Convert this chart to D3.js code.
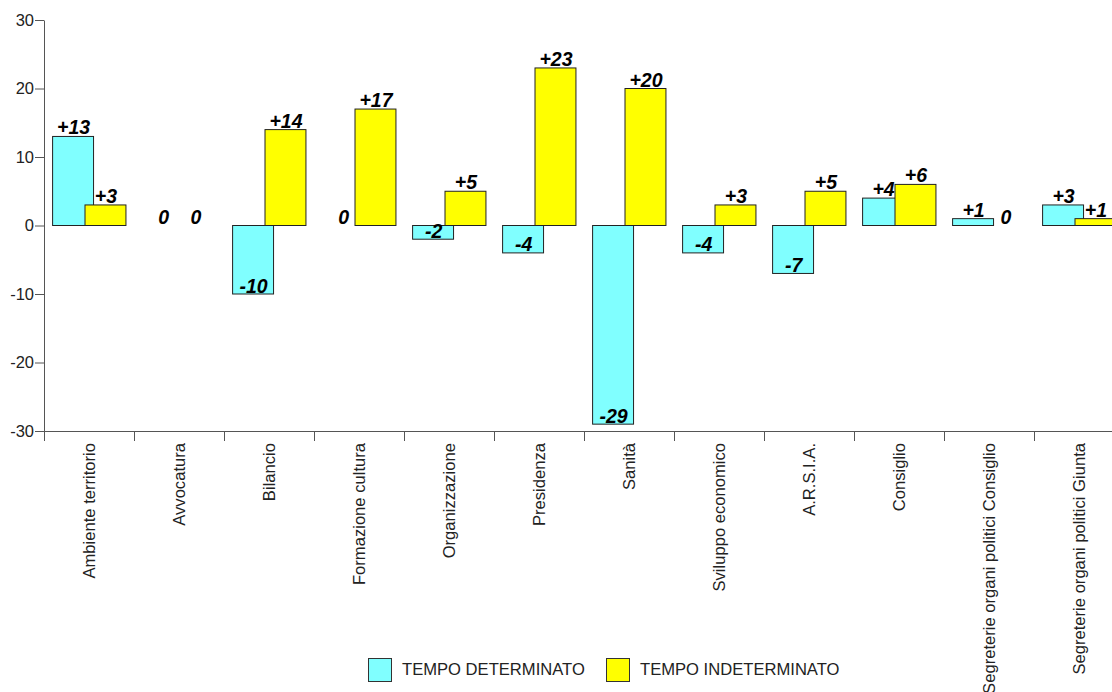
<!DOCTYPE html>
<html>
<head>
<meta charset="utf-8">
<script src="https://cdn.jsdelivr.net/npm/d3@7"></script>
<style>
  html, body { margin: 0; padding: 0; background: #fff; }
  svg { display: block; font-family: "Liberation Sans", Arial, sans-serif; }
</style>
</head>
<body>
<svg id="chart" width="1112" height="692"></svg>
<script>
const categories = [
  "Ambiente territorio", "Avvocatura", "Bilancio", "Formazione cultura",
  "Organizzazione", "Presidenza", "Sanità", "Sviluppo economico",
  "A.R.S.I.A.", "Consiglio", "Segreterie organi politici Consiglio",
  "Segreterie organi politici Giunta"
];
const seriesNames = ["TEMPO DETERMINATO", "TEMPO INDETERMINATO"];
const determinato   = [13, 0, -10, 0, -2, -4, -29, -4, -7, 4, 1, 3];
const indeterminato = [3, 0, 14, 17, 5, 23, 20, 3, 5, 6, 0, 1];
const yTicks = [-30, -20, -10, 0, 10, 20, 30];
const colors = ["#80FFFF", "#FFFF00"];

(function () {
const svg = d3.select("#chart");
const mLeft = 44, mTop = 20, mBottom = 431, step = 90;
const fontFamily = "Liberation Sans, Arial, sans-serif";

const x = d3.scaleBand().domain(categories)
  .range([mLeft, mLeft + step * categories.length]).padding(0);
const y = d3.scaleLinear().domain([-30, 30]).range([mBottom, mTop]);

const bw = x.bandwidth();
const barW = bw * 0.455;
const offsets = [bw * 0.09, bw * 0.45];

// Y axis
const yAxis = svg.append("g").attr("transform", `translate(${mLeft},0)`)
  .call(d3.axisLeft(y).tickValues(yTicks).tickSize(9).tickSizeOuter(0).tickPadding(1)
    .tickFormat(d => String(d)));
yAxis.select(".domain").attr("stroke", "#555");
yAxis.selectAll(".tick line").attr("stroke", "#555");
yAxis.selectAll(".tick text").attr("fill", "#222").style("font-size", "16.5px")
  .style("font-family", fontFamily);

// X axis
const xAxis = svg.append("g").attr("transform", `translate(0,${mBottom})`)
  .call(d3.axisBottom(x).tickSize(0).tickSizeOuter(0).tickPadding(0));
xAxis.select(".domain").attr("d", `M${mLeft},0.5H1112`).attr("stroke", "#555");
xAxis.selectAll(".tick text")
  .attr("fill", "#222")
  .style("font-size", "16.6px")
  .style("font-family", fontFamily)
  .attr("text-anchor", "end")
  .attr("transform", "rotate(-90)")
  .attr("x", -12)
  .attr("y", 0)
  .attr("dy", "0.35em");
svg.append("g").selectAll("line").data(categories).join("line")
  .attr("x1", d => x(d) + 0.5).attr("x2", d => x(d) + 0.5)
  .attr("y1", mBottom).attr("y2", mBottom + 10)
  .attr("stroke", "#555");

// Bars and labels, series by series
const seriesData = [determinato, indeterminato];
const fmt = v => v > 0 ? "+" + v : String(v);
seriesData.forEach((vals, si) => {
  const g = svg.append("g");
  g.selectAll("rect").data(categories).join("rect")
    .attr("x", d => x(d) + offsets[si] + 0.5)
    .attr("width", barW)
    .attr("y", (d, i) => y(Math.max(0, vals[i])))
    .attr("height", (d, i) => Math.abs(y(vals[i]) - y(0)))
    .attr("fill", colors[si])
    .attr("stroke", (d, i) => vals[i] === 0 ? "none" : "#222")
    .attr("stroke-width", 1);
  g.selectAll("text").data(categories).join("text")
    .attr("x", d => x(d) + offsets[si] + barW / 2 + 1)
    .attr("y", (d, i) => vals[i] < 0 ? y(vals[i]) - 1.5 : y(vals[i]) - 2)
    .attr("text-anchor", "middle")
    .style("font-size", "19.5px")
    .style("font-weight", "bold")
    .style("font-style", "italic")
    .attr("fill", "#000")
    .text((d, i) => fmt(vals[i]));
});

// Legend
const legendX = [368, 606];
seriesNames.forEach((name, i) => {
  svg.append("rect").attr("x", legendX[i] + 0.5).attr("y", 658.5)
    .attr("width", 23).attr("height", 23)
    .attr("fill", colors[i]).attr("stroke", "#333");
  svg.append("text").attr("x", legendX[i] + 34).attr("y", 674.5)
    .style("font-size", "16.6px").attr("fill", "#222").text(name);
});
})();
</script>
</body>
</html>
